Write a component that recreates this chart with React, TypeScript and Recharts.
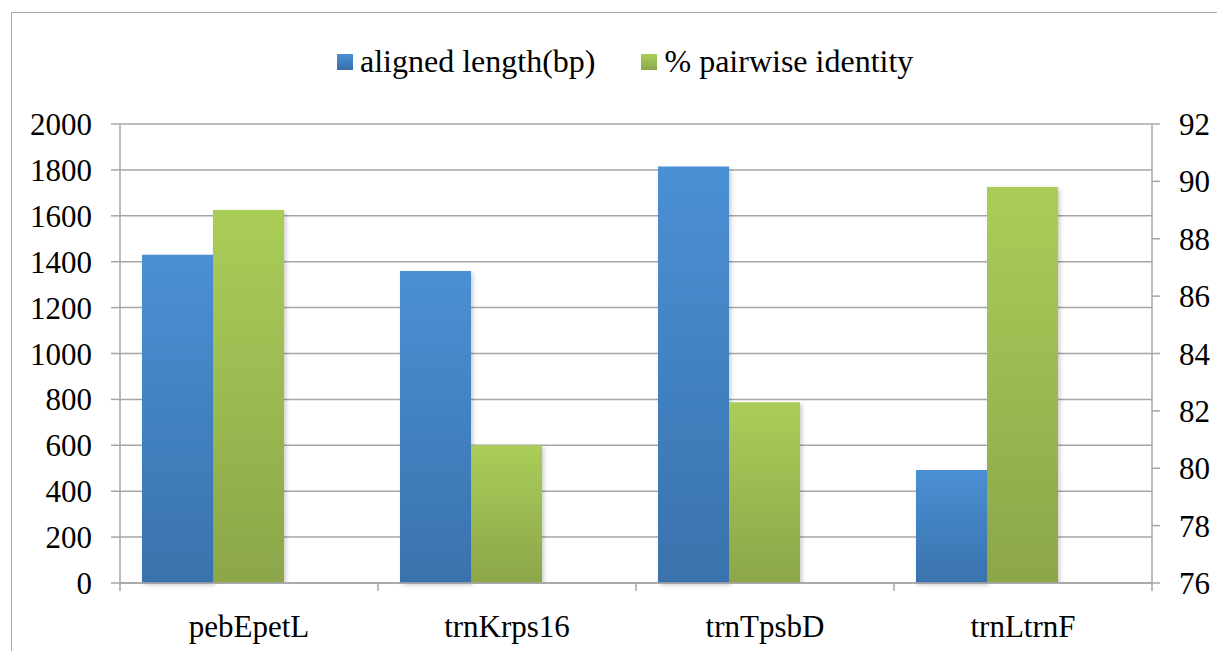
import React from "react";
import { BarChart, Bar, XAxis, YAxis, CartesianGrid } from "recharts";

const categories = ["pebEpetL", "trnKrps16", "trnTpsbD", "trnLtrnF"];
const alignedLength = [1430, 1360, 1815, 492];
const pairwiseIdentity = [89.0, 80.8, 82.3, 89.8];
const leftTicks = [0, 200, 400, 600, 800, 1000, 1200, 1400, 1600, 1800, 2000];
const rightTicks = [76, 78, 80, 82, 84, 86, 88, 90, 92];
const seriesNames = ["aligned length(bp)", "% pairwise identity"];

const data = categories.map((name, i) => ({
  name,
  length: alignedLength[i],
  identity: pairwiseIdentity[i],
  spacer: null,
}));

const FONT = '"Liberation Serif", "Times New Roman", serif';
const GRID = "#a6a6a6";
const W = 1217;
const H = 651;
const LEFT_W = 120;
const RIGHT_W = 65;
const BAND = (W - LEFT_W - RIGHT_W) / categories.length;

function CategoryTick(props: any) {
  const { x, y, payload, index } = props;
  const half = payload && payload.offset ? payload.offset : BAND / 2;
  const axisY = y - 32;
  return (
    <g>
      <line x1={x - half} x2={x - half} y1={axisY} y2={axisY + 8} stroke={GRID} strokeWidth={1.5} />
      {index === categories.length - 1 && (
        <line x1={x + half} x2={x + half} y1={axisY} y2={axisY + 8} stroke={GRID} strokeWidth={1.5} />
      )}
      <text x={x} y={y} dy="0.71em" textAnchor="middle" fill="#000" fontSize={31} style={{ fontFamily: FONT }}>
        {payload.value}
      </text>
    </g>
  );
}

function ValueTick(props: any) {
  const { x, y, payload, textAnchor } = props;
  return (
    <text x={x} y={y} dy="0.355em" textAnchor={textAnchor} fill="#000" fontSize={31} style={{ fontFamily: FONT }}>
      {payload.value}
    </text>
  );
}

function LegendBox({ from, to }: { from: string; to: string }) {
  return (
    <span
      style={{
        display: "inline-block",
        width: 16,
        height: 16,
        background: `linear-gradient(${from}, ${to})`,
        marginRight: 7,
      }}
    />
  );
}

export default function App() {
  return (
    <div
      style={{
        position: "absolute",
        left: 0,
        top: 0,
        width: W,
        height: H,
        overflow: "hidden",
        background: "#fff",
        fontFamily: FONT,
      }}
    >
      <div
        style={{
          position: "absolute",
          left: 11,
          top: 12,
          width: W + 100,
          height: H + 100,
          border: `1.5px solid ${GRID}`,
        }}
      />
      <div
        style={{
          position: "absolute",
          left: 337,
          top: 43,
          display: "flex",
          alignItems: "center",
          fontFamily: FONT,
          fontSize: 32,
          color: "#000",
          whiteSpace: "nowrap",
        }}
      >
        <LegendBox from="#4a90d4" to="#3a70a8" />
        <span style={{ marginRight: 46 }}>{seriesNames[0]}</span>
        <LegendBox from="#abcf5a" to="#8ca64a" />
        <span>{seriesNames[1]}</span>
      </div>
      <BarChart
        width={W}
        height={H}
        data={data}
        margin={{ top: 124, right: 0, bottom: 0, left: 0 }}
        barCategoryGap={22}
        barGap={0}
        style={{ position: "absolute", left: 0, top: 0, fontFamily: FONT }}
      >
        <defs>
          <linearGradient id="blueGrad" x1="0" y1="0" x2="0" y2="1">
            <stop offset="0%" stopColor="#4a90d4" />
            <stop offset="100%" stopColor="#3a72ad" />
          </linearGradient>
          <linearGradient id="greenGrad" x1="0" y1="0" x2="0" y2="1">
            <stop offset="0%" stopColor="#aacd58" />
            <stop offset="100%" stopColor="#8ca64a" />
          </linearGradient>
          <filter id="barShadow" x="-10%" y="-10%" width="130%" height="130%">
            <feDropShadow dx="2" dy="2" stdDeviation="2" floodColor="#000" floodOpacity="0.2" />
          </filter>
        </defs>
        <CartesianGrid yAxisId="left" vertical={false} stroke={GRID} strokeWidth={1.5} />
        <XAxis
          dataKey="name"
          stroke={GRID}
          strokeWidth={1.5}
          tickLine={false}
          tickSize={8}
          tickMargin={24}
          height={68}
          interval={0}
          tick={<CategoryTick />}
        />
        <YAxis
          yAxisId="left"
          domain={[0, 2000]}
          ticks={leftTicks}
          width={LEFT_W}
          stroke={GRID}
          strokeWidth={1.5}
          tickSize={9}
          tickMargin={19}
          interval={0}
          tick={<ValueTick />}
        />
        <YAxis
          yAxisId="right"
          orientation="right"
          domain={[76, 92]}
          ticks={rightTicks}
          width={RIGHT_W}
          stroke={GRID}
          strokeWidth={1.5}
          tickSize={8}
          tickMargin={19}
          interval={0}
          allowDataOverflow
          tick={<ValueTick />}
        />
        <Bar
          yAxisId="left"
          dataKey="length"
          name={seriesNames[0]}
          fill="url(#blueGrad)"
          filter="url(#barShadow)"
          isAnimationActive={false}
        />
        <Bar
          yAxisId="right"
          dataKey="identity"
          name={seriesNames[1]}
          fill="url(#greenGrad)"
          filter="url(#barShadow)"
          isAnimationActive={false}
        />
        <Bar yAxisId="left" dataKey="spacer" fill="none" isAnimationActive={false} />
      </BarChart>
    </div>
  );
}
